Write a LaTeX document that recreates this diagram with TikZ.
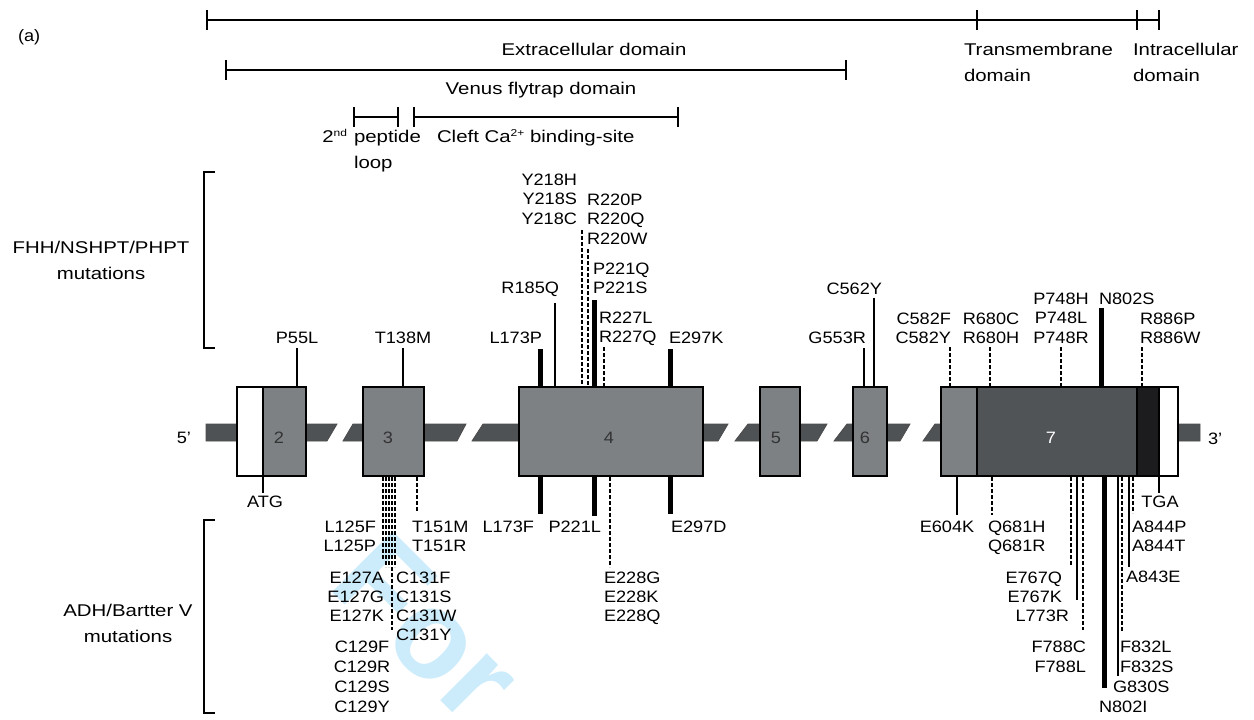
\documentclass[tikz,border=0pt]{standalone}
\usepackage{fontspec}
\setmainfont{Liberation Sans}
\newfontfamily\labfont[FakeStretch=1.1]{Liberation Sans}
\newfontfamily\hdfont[FakeStretch=1.2]{Liberation Sans}
\definecolor{barc}{RGB}{78,82,85}
\definecolor{exonc}{RGB}{125,129,132}
\definecolor{darkex}{RGB}{80,84,87}
\definecolor{blackex}{RGB}{28,28,30}
\definecolor{wmc}{RGB}{205,236,251}
\newcommand\mstack[6][19.6]{%
  \foreach \t [count=\i] in {#6} {\node[lab, anchor=#3] (#2\i) at (#4, {#5+#1*(\i-1)}) {\t};}}
\begin{document}
\begin{tikzpicture}[x=1pt,y=-1pt,
  lab/.style={font=\labfont\fontsize{16.5}{19.5}\selectfont, inner sep=0pt, outer sep=0pt},
  hd/.style={font=\hdfont\fontsize{17}{26}\selectfont, inner sep=0pt, outer sep=0pt},
  exon/.style={draw=black, line width=2pt, fill=exonc, inner sep=0pt, minimum height=89pt},
  exnum/.style={font=\labfont\fontsize{16.5}{16.5}\selectfont, inner sep=0pt, text=black!80},
  thinl/.style={line width=1.6pt},
  thickl/.style={line width=5pt},
  dsh/.style={line width=2pt, dash pattern=on 4pt off 2pt},
  scl/.style={line width=2pt},
  barp/.style={fill=barc, draw=black!70, line width=0.8pt},
]
\useasboundingbox (0,0) rectangle (1254,720);
% watermark
\begin{scope}
\clip (0,0) rectangle (1254,720);
\node[text=wmc, font=\bfseries\fontsize{125}{125}\selectfont, rotate=-45, inner sep=0pt] (wm) at (428,628) {For};
\end{scope}

% (a)
\node[lab, anchor=base west] (pa) at (18,41) {(a)};

% domain scale lines
\coordinate (s0) at (207,20); \coordinate (s1) at (977,20);
\coordinate (s2) at (1137,20); \coordinate (s3) at (1159,20);
\draw[scl] (s0) -- (s3);
\foreach \c in {s0,s1,s2,s3} \draw[scl] (\c) ++(0,-10) -- ++(0,20);
\coordinate (v0) at (226,70); \coordinate (v1) at (846,70);
\draw[scl] (v0) -- (v1);
\foreach \c in {v0,v1} \draw[scl] (\c) ++(0,-10) -- ++(0,20);
\coordinate (p0) at (354,117); \coordinate (p1) at (398,117);
\coordinate (c0) at (414,117); \coordinate (c1) at (678,117);
\draw[scl] (p0) -- (p1); \draw[scl] (c0) -- (c1);
\foreach \c in {p0,p1,c0,c1} \draw[scl] (\c) ++(0,-10) -- ++(0,20);

\node[hd, anchor=base] (extra) at (594,55) {Extracellular domain};
\node[hd, anchor=base] (venus) at (541,94) {Venus flytrap domain};
\node[hd, anchor=base east] (nd) at (347,142) {2\raisebox{6pt}{\fontsize{10}{10}\selectfont nd}};
\node[hd, anchor=base west] (pep) at (354,142) {peptide};
\node[hd, anchor=base west] (loop) at (354,168) {loop};
\node[hd, anchor=base west] (cleft) at (437,142) {Cleft Ca\raisebox{6pt}{\fontsize{10}{10}\selectfont 2+} binding-site};
\node[hd, anchor=base west] (tm1) at (964,56) {Transmembrane};
\node[hd, anchor=base west] (tm2) at (964,81) {domain};
\node[hd, anchor=base west] (ic1) at (1133,56) {Intracellular};
\node[hd, anchor=base west] (ic2) at (1133,81) {domain};

% side labels and brackets
\node[hd, anchor=base] (fhh1) at (101,253) {FHH/NSHPT/PHPT};
\node[hd, anchor=base] (fhh2) at (101,279) {mutations};
\node[hd, anchor=base] (adh1) at (128,616) {ADH/Bartter V};
\node[hd, anchor=base] (adh2) at (128,642) {mutations};
\coordinate (b1t) at (204,172); \coordinate (b1b) at (204,348);
\coordinate (b2t) at (204,520); \coordinate (b2b) at (204,713);
\draw[scl] ([xshift=11pt]b1t) -- (b1t) -- (b1b) -- ([xshift=11pt]b1b);
\draw[scl] ([xshift=11pt]b2t) -- (b2t) -- (b2b) -- ([xshift=11pt]b2b);

% gene bar
\draw[barp] (206,424) -- (337,424) -- (327,441) -- (206,441) -- cycle;
\draw[barp] (353,424) -- (466,424) -- (457,441) -- (343,441) -- cycle;
\draw[barp] (483,424) -- (728,424) -- (718,441) -- (472,441) -- cycle;
\draw[barp] (748,424) -- (827,424) -- (817,441) -- (735,441) -- cycle;
\draw[barp] (847,424) -- (910,424) -- (900,441) -- (834,441) -- cycle;
\draw[barp] (935,424) -- (1200,424) -- (1200,441) -- (923,441) -- cycle;
\node[lab, anchor=base east] (five) at (191,443) {5’};
\node[lab, anchor=base west] (three) at (1208,444) {3’};

% exons
\node[exon, fill=white, minimum width=26pt] (e2w) at (250,431.5) {};
\node[exon, minimum width=43pt] (e2) at (284.5,431.5) {};
\node[exon, minimum width=61pt] (e3) at (393.5,431.5) {};
\node[exon, minimum width=184pt] (e4) at (611,431.5) {};
\node[exon, minimum width=40pt] (e5) at (780,431.5) {};
\node[exon, minimum width=34pt] (e6) at (870,431.5) {};
\node[exon, minimum width=36pt] (e7a) at (959,431.5) {};
\node[exon, fill=darkex, minimum width=160pt] (e7b) at (1057,431.5) {};
\node[exon, fill=blackex, minimum width=22pt] (e7c) at (1148,431.5) {};
\node[exon, fill=white, minimum width=19pt] (e7d) at (1168.5,431.5) {};
\node[exnum, anchor=base] (n2) at (279,443) {2};
\node[exnum, anchor=base] (n3) at (388,443) {3};
\node[exnum, anchor=base] (n4) at (609,443) {4};
\node[exnum, anchor=base] (n5) at (776,443) {5};
\node[exnum, anchor=base] (n6) at (865,443) {6};
\node[exnum, anchor=base, text=white] (n7) at (1051,443) {7};

% upper mutation lines
\foreach \x/\y/\s/\b/\n in {297/348/thinl/e2/a, 403/348/thinl/e3/b, 540/349/thickl/e4/c,
  555/303/thinl/e4/d, 582/230/dsh/e4/e, 588/249/dsh/e4/f, 594/300/thickl/e4/g,
  604/347/dsh/e4/h, 670/349/thickl/e4/i, 864/348/thinl/e6/j, 874/298/thinl/e6/k,
  950/347/dsh/e7a/l, 990/347/dsh/e7b/m, 1061/347/dsh/e7b/n, 1101/308/thickl/e7b/o,
  1142/347/dsh/e7c/p}
  {\coordinate (up\n) at (\x,\y); \draw[\s] (up\n) -- (up\n |- \b.north);}

% lower mutation lines
\foreach \x/\y/\s/\b/\n in {263/493/thinl/e2/a, 383/560/dsh/e3/b, 386/567/dsh/e3/c,
  389/567/dsh/e3/d, 392/630/dsh/e3/e, 395/567/dsh/e3/f, 417/512/dsh/e3/g,
  540/514/thickl/e4/h, 594/516/thickl/e4/i, 610/567/dsh/e4/j, 670/514/thickl/e4/k,
  957/515/thinl/e7a/l, 992/515/dsh/e7b/m, 1071/565/dsh/e7b/n, 1077/600/thinl/e7b/o,
  1083/630/dsh/e7b/p, 1104/688/thickl/e7b/q, 1118/676/thinl/e7b/r, 1122/632/dsh/e7b/s,
  1129/567/thinl/e7b/t, 1133/513/dsh/e7b/u, 1159/493/thinl/e7d/v}
  {\coordinate (lo\n) at (\x,\y); \draw[\s] (lo\n |- \b.south) -- (lo\n);}

% upper labels
\node[lab, anchor=base] (P55L) at (297,343) {P55L};
\node[lab, anchor=base] (T138M) at (403,343) {T138M};
\node[lab, anchor=base east] (L173P) at (542,343) {L173P};
\node[lab, anchor=base east] (R185Q) at (559,293) {R185Q};
\mstack{Y218}{base east}{577}{185}{Y218H,Y218S,Y218C}
\mstack{R220}{base west}{587}{205}{R220P,R220Q,R220W}
\mstack[19]{P221}{base west}{593}{274}{P221Q,P221S}
\mstack{R227}{base west}{599}{323}{R227L,R227Q}
\node[lab, anchor=base west] (E297K) at (669,343) {E297K};
\node[lab, anchor=base east] (G553R) at (866,343) {G553R};
\node[lab, anchor=base east] (C562Y) at (882,294) {C562Y};
\mstack{C582}{base east}{951}{324}{C582F,C582Y}
\mstack{R680}{base}{991}{324}{R680C,R680H}
\mstack{P748}{base}{1061}{304}{P748H,P748L,P748R}
\node[lab, anchor=base west] (N802S) at (1099,304) {N802S};
\mstack{R886}{base west}{1140}{324}{R886P,R886W}

% lower labels
\node[lab, anchor=base] (ATG) at (265,507) {ATG};
\mstack{L125}{base east}{376}{532}{L125F,L125P}
\mstack{T151}{base west}{412}{532}{T151M,T151R}
\mstack[19]{E127}{base east}{384}{583}{E127A,E127G,E127K}
\mstack[19]{C131}{base west}{396}{583}{C131F,C131S,C131W,C131Y}
\mstack[20]{C129}{base}{362}{652}{C129F,C129R,C129S,C129Y}
\node[lab, anchor=base east] (L173F) at (534,532) {L173F};
\node[lab, anchor=base east] (P221L) at (601,532) {P221L};
\mstack[19]{E228}{base west}{604}{583}{E228G,E228K,E228Q}
\node[lab, anchor=base west] (E297D) at (671,532) {E297D};
\node[lab, anchor=base] (E604K) at (947,532) {E604K};
\mstack{Q681}{base west}{988}{532}{Q681H,Q681R}
\mstack[19]{E767}{base east}{1062}{583}{E767Q,E767K}
\node[lab, anchor=base east] (L773R) at (1069,621) {L773R};
\mstack[20]{F788}{base east}{1086}{652}{F788C,F788L}
\mstack[20]{F832}{base west}{1120}{652}{F832L,F832S}
\node[lab, anchor=base west] (G830S) at (1113,692) {G830S};
\node[lab, anchor=base west] (N802I) at (1099,712) {N802I};
\node[lab, anchor=base west] (A843E) at (1126,582) {A843E};
\mstack{A844}{base west}{1132}{532}{A844P,A844T}
\node[lab, anchor=base] (TGA) at (1160,507) {TGA};
\end{tikzpicture}
\end{document}
